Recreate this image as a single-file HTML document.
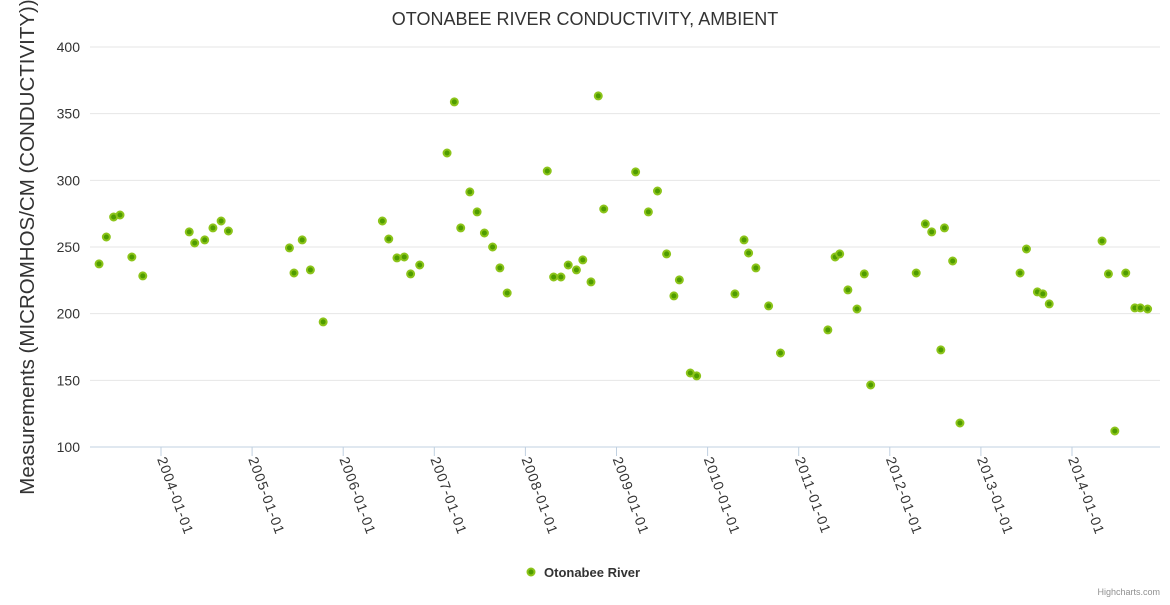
<!DOCTYPE html>
<html><head><meta charset="utf-8"><style>
html,body{margin:0;padding:0;background:#fff;}
svg text{font-family:"Liberation Sans","DejaVu Sans",sans-serif;}
</style></head><body>
<svg id="chart" width="1170" height="600" xmlns="http://www.w3.org/2000/svg">
<text x="585" y="25" text-anchor="middle" font-size="18" fill="#333">OTONABEE RIVER CONDUCTIVITY, AMBIENT</text>
<g id="grid"></g>
<g id="yticks"></g>
<g id="xaxis"></g>
<g id="points"></g>
<text transform="translate(34,247) rotate(-90)" text-anchor="middle" font-size="20.5" fill="#333">Measurements (MICROMHOS/CM (CONDUCTIVITY))</text>
<g>
<circle cx="531" cy="572" r="3.5" fill="#4f9c00" stroke="#8cc41a" stroke-width="2"/>
<text x="544" y="577" font-size="13" font-weight="bold" fill="#333">Otonabee River</text>
</g>
<text x="1160" y="595" text-anchor="end" font-size="9" fill="#909090">Highcharts.com</text>
</svg>
<script>
const years = [2003.32,2003.40,2003.48,2003.55,2003.68,2003.80,2004.31,2004.37,2004.48,2004.57,2004.66,2004.74,2005.41,2005.46,2005.55,2005.64,2005.78,2006.43,2006.50,2006.59,2006.67,2006.74,2006.84,2007.14,2007.22,2007.29,2007.39,2007.47,2007.55,2007.64,2007.72,2007.80,2008.24,2008.31,2008.39,2008.47,2008.56,2008.63,2008.72,2008.80,2008.86,2009.21,2009.35,2009.45,2009.55,2009.63,2009.69,2009.81,2009.88,2010.30,2010.40,2010.45,2010.53,2010.67,2010.80,2011.32,2011.40,2011.45,2011.54,2011.64,2011.72,2011.79,2012.29,2012.39,2012.46,2012.56,2012.60,2012.69,2012.77,2013.43,2013.50,2013.62,2013.68,2013.75,2014.33,2014.40,2014.47,2014.59,2014.69,2014.75,2014.83];
const values = [237.3,257.5,272.5,274,242.5,228.3,261.3,253,255.3,264.3,269.5,262,249.3,230.5,255.3,232.8,193.8,269.5,256,241.8,242.5,229.8,236.5,320.5,358.8,264.3,291.3,276.3,260.5,250,234.3,215.5,307,227.5,227.5,236.5,232.8,240.3,223.8,363.3,278.5,306.3,276.3,292,244.8,213.3,225.3,155.5,153.3,214.8,255.3,245.5,234.3,205.8,170.5,187.8,242.5,244.8,217.8,203.5,229.8,146.5,230.5,267.3,261.3,172.8,264.3,239.5,118,230.5,248.5,216.3,214.8,207.3,254.5,229.8,112,230.5,204.3,204.3,203.5];
const yTicks = [100,150,200,250,300,350,400];
const xTickYears = [2004,2005,2006,2007,2008,2009,2010,2011,2012,2013,2014];
const xTickLabels = ["2004-01-01","2005-01-01","2006-01-01","2007-01-01","2008-01-01","2009-01-01","2010-01-01","2011-01-01","2012-01-01","2013-01-01","2014-01-01"];

const NS="http://www.w3.org/2000/svg";
const plotLeft=90,plotRight=1160,plotTop=47,plotBottom=447;
function yScale(v){return plotBottom-(v-100)/300*(plotBottom-plotTop);}
function xScale(yr){return 161+(yr-2004)*91.1;}
function mk(tag,attrs,parent){const e=document.createElementNS(NS,tag);for(const k in attrs)e.setAttribute(k,attrs[k]);parent.appendChild(e);return e;}

const grid=document.getElementById('grid'),yt=document.getElementById('yticks');
yTicks.forEach(t=>{
  const y=yScale(t);
  const l=mk('line',{x1:plotLeft,x2:plotRight,y1:y,y2:y,stroke:t===100?'#c0d0e0':'#e6e6e6','stroke-width':1},grid);
  
  
  const tx=mk('text',{x:plotLeft-10,y:y+5,'text-anchor':'end','font-size':14,fill:'#333'},yt);
  tx.textContent=t;
  
  
});
const xa=document.getElementById('xaxis');
xTickYears.forEach((yr,i)=>{
  const x=xScale(yr);
  const tk=mk('line',{x1:x,x2:x,y1:plotBottom,y2:plotBottom+9,stroke:'#c0d0e0','stroke-width':1},xa);
  
  
  const tx=mk('text',{transform:'translate('+(x-4)+','+(plotBottom+12)+') rotate(70)','font-size':14,'letter-spacing':1,fill:'#333'},xa);
  tx.textContent=xTickLabels[i];
  
  
});
const pts=document.getElementById('points');
years.forEach((yr,i)=>{
  const c=mk('circle',{cx:xScale(yr),cy:yScale(values[i]),r:3.5,fill:'#4f9c00',stroke:'#8cc41a','stroke-width':2},pts);
  
  
});
</script>
</body></html>
